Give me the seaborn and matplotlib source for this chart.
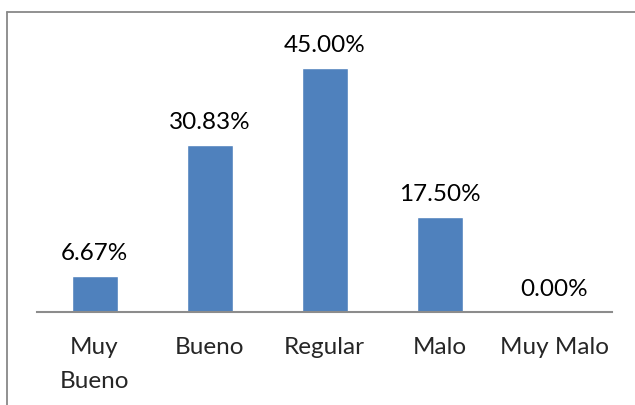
import matplotlib.pyplot as plt
import matplotlib.lines as mlines
import seaborn as sns

categorias = ["Muy\nBueno", "Bueno", "Regular", "Malo", "Muy Malo"]
porcentajes = [6.67, 30.83, 45.00, 17.50, 0.00]
etiquetas = ["6.67%", "30.83%", "45.00%", "17.50%", "0.00%"]

sns.set_style("white")
plt.rcParams['font.family'] = ['Lato', 'DejaVu Sans']

fig = plt.figure(figsize=(6.35, 4.06), dpi=100)
ax = fig.add_axes([37 / 635, 93 / 406, 575 / 635, 271 / 406])

sns.barplot(x=categorias, y=porcentajes, color="#4F81BD", width=0.4,
            saturation=1, ax=ax)

for i, (v, t) in enumerate(zip(porcentajes, etiquetas)):
    ax.annotate(t, (i, v), xytext=(0, 9.5), textcoords="offset points",
                ha="center", va="bottom", fontsize=17.5, color="black",
                annotation_clip=False)

ax.set_xlim(-0.5, 4.5)
ax.set_ylim(0, 50)
ax.set_yticks([])
ax.set_xticks(range(len(categorias)))
ax.set_xticklabels(categorias, fontsize=17.5, linespacing=1.8, va="top")
ax.tick_params(axis="x", length=0, pad=17)
for s in ["top", "right", "left"]:
    ax.spines[s].set_visible(False)
ax.spines["bottom"].set_color("#8C8C8C")
ax.spines["bottom"].set_linewidth(1.5)

# marco del gráfico (recortado a la derecha y abajo)
fig.add_artist(mlines.Line2D([6.5 / 635, 6.5 / 635], [0, 1 - 13 / 406],
                             transform=fig.transFigure, color="#888888", lw=1.3))
fig.add_artist(mlines.Line2D([6.5 / 635, 1], [1 - 13 / 406, 1 - 13 / 406],
                             transform=fig.transFigure, color="#888888", lw=1.3))

fig.savefig("out.png", dpi=100)
